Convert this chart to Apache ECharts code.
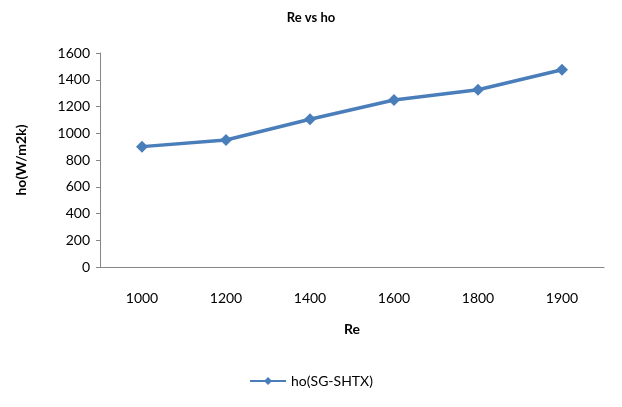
<!DOCTYPE html>
<html>
<head>
<meta charset="utf-8">
<script src="https://cdn.jsdelivr.net/npm/echarts@6/dist/echarts.min.js"></script>
<style>
  html, body { margin: 0; padding: 0; background: #fff; }
  #chart { width: 622px; height: 407px; }
</style>
</head>
<body>
<div id="chart"></div>
<script>
  // data
  const reValues = ['1000', '1200', '1400', '1600', '1800', '1900']
  const hoValues = [900, 950, 1105, 1248, 1325, 1475]
  const yTicks = [0, 200, 400, 600, 800, 1000, 1200, 1400, 1600]

  const font = 'Lato, "Open Sans", sans-serif'
  const lineColor = '#4a7ebb'

  const chart = echarts.init(document.getElementById('chart'))
  chart.setOption({
    animation: false,
    title: {
      text: 'Re vs ho',
      left: 'center',
      top: 6,
      textStyle: { fontFamily: font, fontSize: 13, fontWeight: 'bold', color: '#000' }
    },
    grid: { left: 100, right: 18, top: 53, bottom: 140 },
    legend: {
      bottom: 14,
      left: 'center',
      itemWidth: 36,
      itemHeight: 10,
      itemGap: 4,
      textStyle: { fontFamily: font, fontSize: 14, color: '#000' },
      data: ['ho(SG-SHTX)']
    },
    xAxis: {
      type: 'category',
      data: reValues,
      boundaryGap: true,
      name: 'Re',
      nameLocation: 'middle',
      nameGap: 55,
      nameTextStyle: { fontFamily: font, fontSize: 14, fontWeight: 'bold', color: '#000' },
      axisLine: { lineStyle: { color: '#868686' } },
      axisTick: { show: false },
      axisLabel: { fontFamily: font, fontSize: 14, color: '#000', margin: 24 }
    },
    yAxis: {
      type: 'value',
      min: yTicks[0],
      max: yTicks[yTicks.length - 1],
      interval: yTicks[1] - yTicks[0],
      name: 'ho(W/m2k)',
      nameLocation: 'middle',
      nameGap: 72,
      nameTextStyle: { fontFamily: font, fontSize: 14, fontWeight: 'bold', color: '#000' },
      axisLine: { show: true, lineStyle: { color: '#868686' } },
      axisTick: { show: true, length: 4, lineStyle: { color: '#868686' } },
      axisLabel: { fontFamily: font, fontSize: 14, color: '#000', margin: 10, formatter: v => String(v) },
      splitLine: { show: false }
    },
    series: [{
      name: 'ho(SG-SHTX)',
      type: 'line',
      data: hoValues,
      symbol: 'diamond',
      symbolSize: 12,
      lineStyle: { color: lineColor, width: 3.5 },
      itemStyle: { color: lineColor }
    }]
  })
</script>
</body>
</html>
